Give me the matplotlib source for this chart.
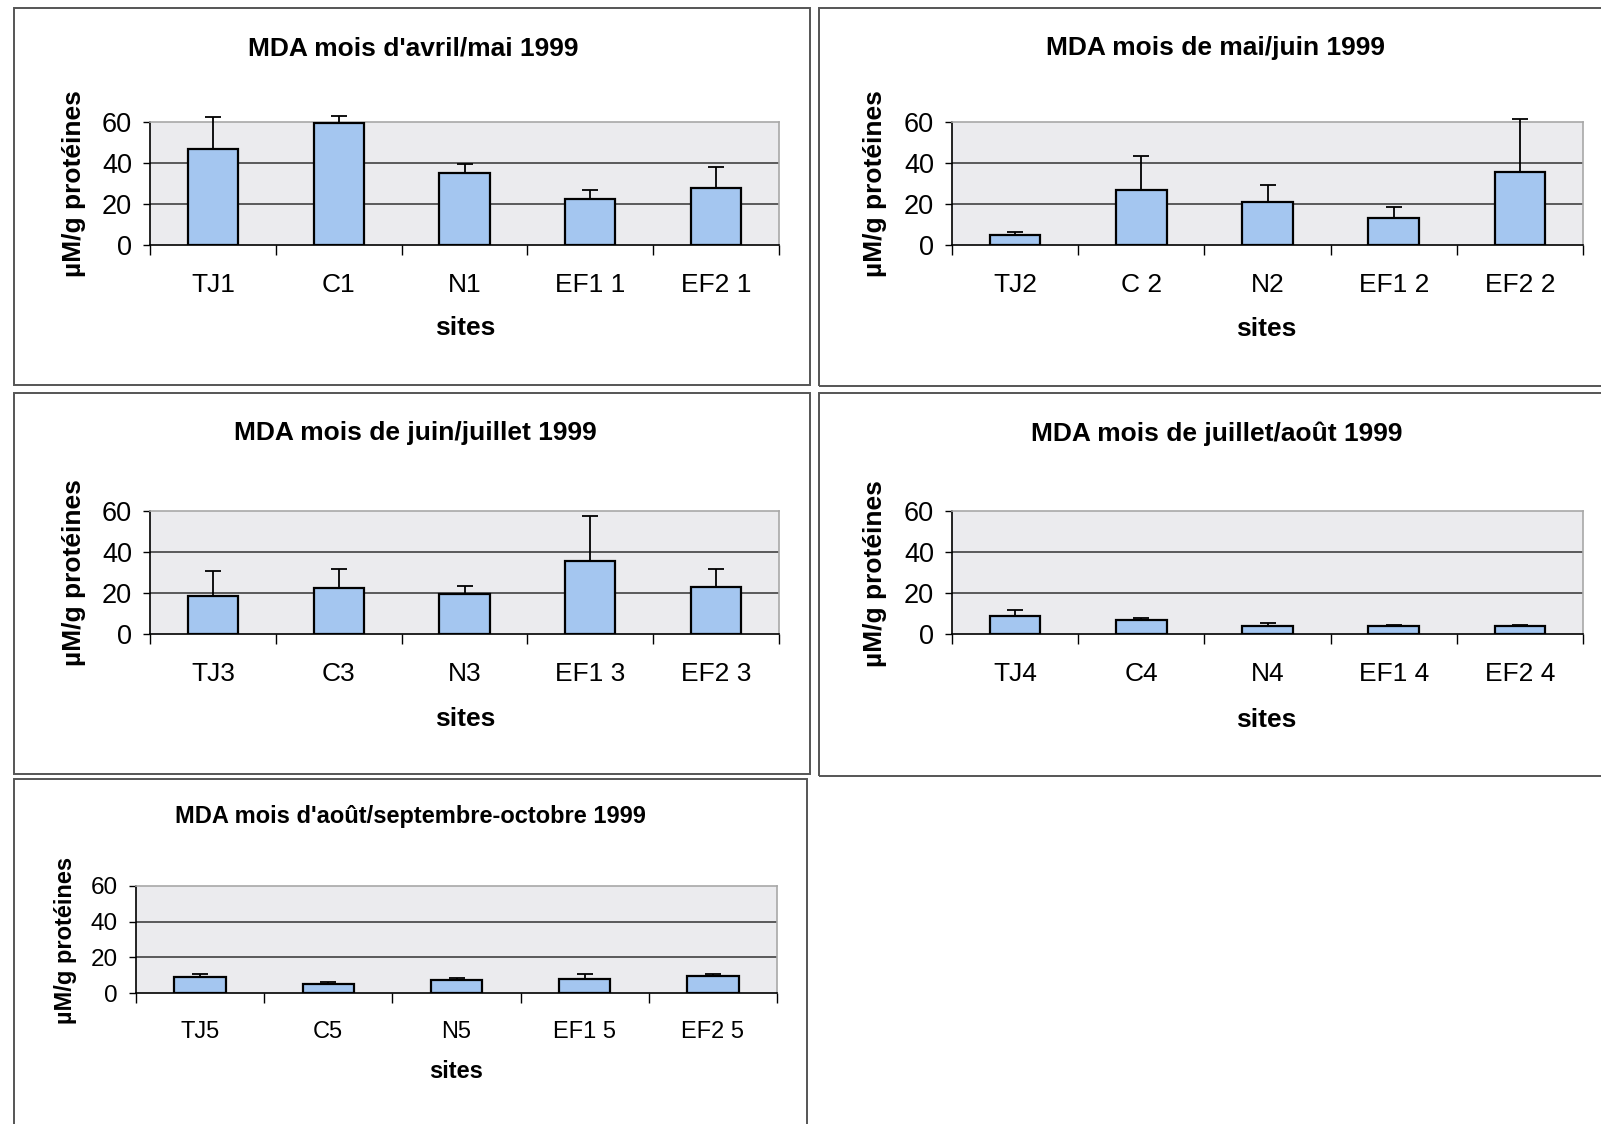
import numpy as np
import matplotlib
matplotlib.use("Agg")
import matplotlib.pyplot as plt
from matplotlib.patches import Rectangle

plt.rcParams["font.family"] = ["Liberation Sans", "DejaVu Sans"]

# données (MDA, µM/g protéines)
titles = [
    "MDA mois d'avril/mai 1999",
    "MDA mois de mai/juin 1999",
    "MDA mois de juin/juillet 1999",
    "MDA mois de juillet/août 1999",
    "MDA mois d'août/septembre-octobre 1999",
]
sites_1 = ["TJ1", "C1", "N1", "EF1 1", "EF2 1"]
sites_2 = ["TJ2", "C 2", "N2", "EF1 2", "EF2 2"]
sites_3 = ["TJ3", "C3", "N3", "EF1 3", "EF2 3"]
sites_4 = ["TJ4", "C4", "N4", "EF1 4", "EF2 4"]
sites_5 = ["TJ5", "C5", "N5", "EF1 5", "EF2 5"]

mda_1 = [46.6, 59.5, 35.1, 22.6, 28.0]
mda_2 = [5.1, 26.7, 21.1, 13.1, 35.7]
mda_3 = [18.5, 22.5, 19.4, 35.7, 22.7]
mda_4 = [8.7, 6.8, 4.0, 3.9, 3.9]
mda_5 = [9.0, 5.3, 7.5, 8.1, 9.8]

err_1 = [16.0, 3.2, 4.2, 4.4, 10.0]
err_2 = [1.4, 16.5, 8.0, 5.4, 26.0]
err_3 = [12.0, 9.3, 4.0, 22.0, 9.0]
err_4 = [3.0, 1.1, 1.2, 0.5, 0.3]
err_5 = [1.9, 0.7, 1.0, 2.6, 1.1]

W, H = 1601, 1124
BAR = "#a4c6f0"
BG = "#ebebee"


def fx(px):
    return px / W


def fy(py):
    return 1 - py / H


def draw_panel(fig, plot_px, box_px, title_px, ylab_px, sites_px,
               title, cats, vals, errs, fs_big, fs_tick):
    x0, y0, x1, y1 = plot_px
    ax = fig.add_axes([fx(x0), fy(y1), fx(x1 - x0), (y1 - y0) / H])
    ax.set_facecolor(BG)
    x = np.arange(len(cats))
    ax.bar(x, vals, width=0.4, color=BAR, edgecolor="black", linewidth=1.6, zorder=3)
    eb = ax.errorbar(x, vals, yerr=[np.zeros(len(errs)), errs], fmt="none",
                     ecolor="black", elinewidth=1.3, capsize=6, capthick=1.3, zorder=4)
    for art in eb.lines[1] + eb.lines[2]:
        art.set_clip_on(False)
    ax.set_xlim(-0.5, len(cats) - 0.5)
    ax.set_ylim(0, 60)
    ax.set_yticks([0, 20, 40, 60])
    ax.set_xticks(x)
    ax.set_xticklabels(cats, fontsize=fs_tick)
    ax.set_xticks(np.arange(len(cats) + 1) - 0.5, minor=True)
    ax.tick_params(axis="x", which="major", length=0, pad=20)
    ax.tick_params(axis="x", which="minor", length=7, width=1.0, direction="out")
    ax.tick_params(axis="y", length=5, width=1.0, direction="out", pad=8,
                   labelsize=fs_tick + 0.5)
    ax.grid(axis="y", color="#333333", linewidth=1.1, zorder=1)
    gl = ax.get_ygridlines()
    gl[0].set_visible(False)
    gl[-1].set_visible(False)
    ax.set_axisbelow(True)
    for s in ["top", "right"]:
        ax.spines[s].set_color("#a8a8a8")
        ax.spines[s].set_linewidth(1.2)
    for s in ["left", "bottom"]:
        ax.spines[s].set_color("black")
        ax.spines[s].set_linewidth(1.2)

    fig.text(fx(title_px[0]), fy(title_px[1]), title, ha="center", va="center",
             fontsize=fs_big, fontweight="bold")
    fig.text(fx(ylab_px[0]), fy(ylab_px[1]), "µM/g protéines", ha="center",
             va="center", rotation=90, fontsize=fs_big, fontweight="bold")
    fig.text(fx(sites_px[0]), fy(sites_px[1]), "sites", ha="center", va="center",
             fontsize=fs_big, fontweight="bold")

    bx0, by0, bx1, by1 = box_px
    fig.patches.append(Rectangle((fx(bx0), fy(by1)), fx(bx1 - bx0), (by1 - by0) / H,
                                 transform=fig.transFigure, fill=False,
                                 edgecolor="#555555", linewidth=1.4))
    return ax


fig = plt.figure(figsize=(W / 100, H / 100), dpi=100)
fig.patch.set_facecolor("white")

draw_panel(fig, (150, 122, 779, 245), (14, 8, 810, 385), (413, 48), (74, 184),
           (465, 328), titles[0], sites_1, mda_1, err_1, 19, 19)
draw_panel(fig, (952, 122, 1583, 245), (819, 8, 1610, 386), (1215, 48), (875, 184),
           (1266, 329), titles[1], sites_2, mda_2, err_2, 19, 19)
draw_panel(fig, (150, 511, 779, 634), (14, 393, 810, 774), (415, 433), (74, 573),
           (465, 719), titles[2], sites_3, mda_3, err_3, 19, 19)
draw_panel(fig, (952, 511, 1583, 634), (819, 393, 1610, 776), (1217, 434), (875, 574),
           (1266, 720), titles[3], sites_4, mda_4, err_4, 19, 19)
draw_panel(fig, (136, 886, 777, 993), (14, 779, 807, 1140), (410, 817), (65, 940),
           (456, 1071), titles[4], sites_5, mda_5, err_5, 17, 17)

fig.savefig("out.png", dpi=100)
